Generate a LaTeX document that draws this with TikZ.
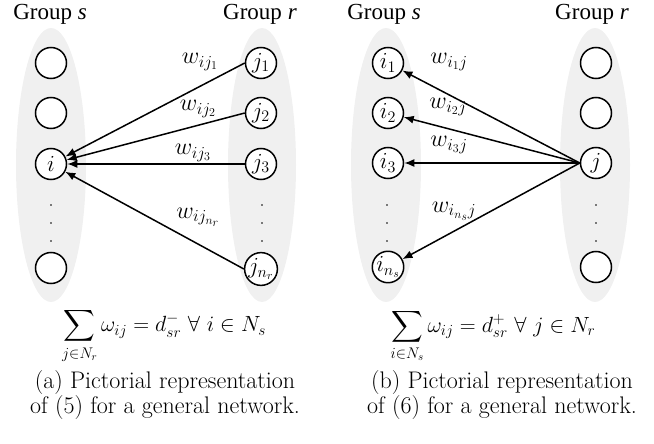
\RequirePackage{fix-cm}
\documentclass[tikz,border=0pt]{standalone}
\usepackage{fontspec}
\usepackage{amsmath,amssymb}
\newfontfamily\timesfont{Liberation Serif}
\usetikzlibrary{arrows.meta}
\begin{document}
\begin{tikzpicture}[x=1pt,y=-1pt,
  grp/.style={draw=none,fill=black!6},
  vtx/.style={circle,draw,line width=1.5pt,fill=white,minimum size=31pt,inner sep=0pt,font=\fontsize{23}{26}\selectfont},
  wlab/.style={font=\fontsize{24}{27}\selectfont,inner sep=0pt},
  gtitle/.style={font=\timesfont\fontsize{23}{27}\selectfont,inner sep=0pt},
  arr/.style={line width=1.5pt,-{Latex[length=10pt,width=8pt]}},
  dotn/.style={circle,fill=black,inner sep=0pt,minimum size=1.6pt},
  eqn/.style={font=\fontsize{22}{26}\selectfont,inner sep=0pt},
  capt/.style={font=\fontsize{24}{24.5}\selectfont,align=center,inner sep=0pt}
]
\useasboundingbox (0,0) rectangle (654,444);
% ---------- panel (a)
\fill[grp] (51,165) ellipse [x radius=35,y radius=137];
\fill[grp] (262,165) ellipse [x radius=34,y radius=137];
\node[gtitle] (ta1) at (50,14) {Group \textit{s}};
\node[gtitle] (ta2) at (260,14) {Group \textit{r}};
\node[vtx] (as1) at (51,63) {};
\node[vtx] (as2) at (51,113) {};
\node[vtx] (ai) at (51,164) {$i$};
\node[vtx] (as4) at (51,268) {};
\node[vtx] (aj1) at (261,63) {$j_1$};
\node[vtx] (aj2) at (261,113) {$j_2$};
\node[vtx] (aj3) at (261,164) {$j_3$};
\node[vtx] (ajn) at (261,269) {$j_{n_r}$};
\foreach \k/\yy in {1/205,2/223,3/241}{
  \node[dotn] (ads\k) at (51,\yy) {};
  \node[dotn] (adr\k) at (262,\yy) {};
}
\draw[arr] (aj1.west) -- (ai);
\draw[arr] (aj2.west) -- (ai);
\draw[arr] (aj3.west) -- (ai);
\draw[arr] (ajn.west) -- (ai);
\node[wlab] (lw1) at (200,62) {$w_{ij_1}$};
\node[wlab] (lw2) at (198,109) {$w_{ij_2}$};
\node[wlab] (lw3) at (193,153) {$w_{ij_3}$};
\node[wlab] (lw4) at (198,217) {$w_{ij_{n_r}}$};
\node[eqn] (eqa) at (164,336) {$\displaystyle\sum_{j\in N_r}\omega_{ij}=d^-_{sr}\ \forall\ i\in N_s$};
\node[capt] (capa) at (165,395) {(a) Pictorial representation\\of (5) for a general network.};
% ---------- panel (b)
\fill[grp] (386,165) ellipse [x radius=35,y radius=137];
\fill[grp] (595,165) ellipse [x radius=35,y radius=137];
\node[gtitle] (tb1) at (384,14) {Group \textit{s}};
\node[gtitle] (tb2) at (592,14) {Group \textit{r}};
\node[vtx] (bi1) at (388,63) {$i_1$};
\node[vtx] (bi2) at (388,113) {$i_2$};
\node[vtx] (bi3) at (388,163) {$i_3$};
\node[vtx] (bin) at (388,267) {$i_{n_s}$};
\node[vtx] (br1) at (596,63) {};
\node[vtx] (br2) at (596,113) {};
\node[vtx] (bj) at (596,163) {$j$};
\node[vtx] (br4) at (596,267) {};
\foreach \k/\yy in {1/205,2/223,3/241}{
  \node[dotn] (bds\k) at (387,\yy) {};
  \node[dotn] (bdr\k) at (596,\yy) {};
}
\draw[arr] (bj.west) -- (bi1);
\draw[arr] (bj.west) -- (bi2);
\draw[arr] (bj.west) -- (bi3);
\draw[arr] (bj.west) -- (bin);
\node[wlab] (mw1) at (449,62) {$w_{i_1j}$};
\node[wlab] (mw2) at (448,107) {$w_{i_2j}$};
\node[wlab] (mw3) at (449,145) {$w_{i_3j}$};
\node[wlab] (mw4) at (454,211) {$w_{i_{n_s}j}$};
\node[eqn] (eqb) at (493,336) {$\displaystyle\sum_{i\in N_s}\omega_{ij}=d^+_{sr}\ \forall\ j\in N_r$};
\node[capt] (capb) at (502,395) {(b) Pictorial representation\\of (6) for a general network.};
\end{tikzpicture}
\end{document}
